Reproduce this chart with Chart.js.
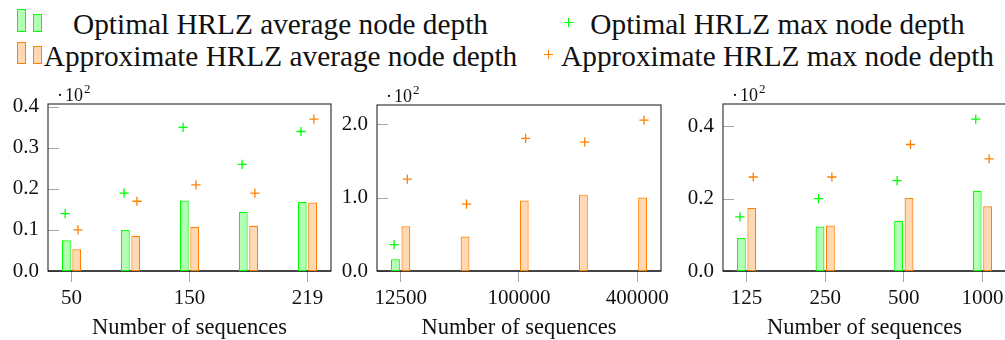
<!DOCTYPE html>
<html>
<head>
<meta charset="utf-8">
<script src="https://cdn.jsdelivr.net/npm/chart.js@4"></script>
<style>
  html, body { margin: 0; padding: 0; background: #fff; }
  body { width: 1005px; height: 340px; position: relative; overflow: hidden;
         font-family: "Liberation Serif", serif; color: #111; }
  canvas { position: absolute; top: 0; }
  .lt { position: absolute; font-size: 29.3px; line-height: 32px; white-space: nowrap;
        transform: translateX(-50%); }
  .sw { position: absolute; box-sizing: border-box; border: 1.2px solid; }
  .cross { position: absolute; width: 9px; height: 9px; }
</style>
</head>
<body>
<div id="legend"></div>
<canvas id="panelA" width="340" height="340" style="left:0px"></canvas>
<canvas id="panelB" width="340" height="340" style="left:330px"></canvas>
<canvas id="panelC" width="340" height="340" style="left:676px"></canvas>
<script>
// ---- data (values in nodes, axis shows them ·10^2) ----
// panel A: 50 .. 219 sequences
const labelsA = ['50', '', '150', '', '219'];
const optAvgA = [7.5, 10, 17.2, 14.4, 16.8];
const apxAvgA = [5.3, 8.6, 10.8, 11, 16.7];
const optMaxA = [14, 19, 35, 26, 34];
const apxMaxA = [10, 17, 21, 19, 37];

// panel B: 12500 .. 400000 sequences (optimal only for the first one)
const labelsB = ['12500', '', '100000', '', '400000'];
const optAvgB = [16, null, null, null, null];
const apxAvgB = [61, 47, 96, 104, 100];
const optMaxB = [36, null, null, null, null];
const apxMaxB = [125, 91, 180.5, 175.5, 205.5];

// panel C: 125 .. 1000 sequences
const labelsC = ['125', '250', '500', '1000'];
const optAvgC = [9.1, 12.3, 13.8, 22.1];
const apxAvgC = [17.4, 12.6, 20.2, 17.9];
const optMaxC = [15, 20, 25, 42];
const apxMaxC = [26, 26, 35, 31];

const legendNames = [
  'Optimal HRLZ average node depth',
  'Optimal HRLZ max node depth',
  'Approximate HRLZ average node depth',
  'Approximate HRLZ max node depth'
];

const GREEN = 'rgb(0,255,0)';
const GREEN_FILL = 'rgb(179,255,179)';
const ORANGE = 'rgb(255,128,0)';
const ORANGE_FILL = 'rgb(255,217,179)';
const FONT = '"Liberation Serif", serif';

// ---- legend (html) ----
function buildLegend() {
  const box = document.getElementById('legend');
  const rows = [
    { y: 0, stroke: GREEN, fill: GREEN_FILL, avg: legendNames[0], max: legendNames[1], crossX: 564 },
    { y: 32.4, stroke: ORANGE, fill: ORANGE_FILL, avg: legendNames[2], max: legendNames[3], crossX: 544 }
  ];
  rows.forEach(r => {
    box.insertAdjacentHTML('beforeend',
      `<div class="sw" style="left:17px;top:${9.3 + r.y}px;width:8.5px;height:22.4px;border-color:${r.stroke};background:${r.fill}"></div>` +
      `<div class="sw" style="left:33px;top:${14 + r.y}px;width:8.5px;height:17.7px;border-color:${r.stroke};background:${r.fill}"></div>` +
      `<div class="lt" style="left:280.5px;top:${8 + r.y}px">${r.avg}</div>` +
      `<div class="cross" style="left:${r.crossX}px;top:${18 + r.y}px;background:` +
        `linear-gradient(${r.stroke},${r.stroke}) center/100% 1.3px no-repeat,` +
        `linear-gradient(${r.stroke},${r.stroke}) center/1.3px 100% no-repeat"></div>` +
      `<div class="lt" style="left:777.5px;top:${8 + r.y}px">${r.max}</div>`);
  });
}

// frame, inner y ticks and the ·10^2 factor
const framePlugin = {
  id: 'frame',
  beforeDatasetsDraw(chart) {
    const { ctx, chartArea: a, scales: { y } } = chart;
    ctx.save();
    ctx.strokeStyle = '#a8a8a8';
    ctx.lineWidth = 1;
    y.ticks.forEach(t => {
      const py = Math.round(y.getPixelForValue(t.value)) + 0.5;
      ctx.beginPath();
      ctx.moveTo(a.left, py);
      ctx.lineTo(a.left + 11, py);
      ctx.stroke();
    });
    ctx.strokeStyle = '#3a3a3a';
    ctx.lineWidth = 1.2;
    ctx.strokeRect(a.left, a.top, a.right - a.left, a.bottom - a.top);
    ctx.strokeStyle = '#000';
    ctx.beginPath();
    ctx.moveTo(a.left, a.bottom);
    ctx.lineTo(a.right, a.bottom);
    ctx.stroke();
    ctx.restore();
  },
  afterDraw(chart) {
    const { ctx, chartArea: a } = chart;
    ctx.save();
    ctx.fillStyle = '#111';
    ctx.textBaseline = 'alphabetic';
    ctx.font = '18px ' + FONT;
    ctx.fillText('·', a.left + 9, a.top - 3.5);
    ctx.fillText('10', a.left + 17, a.top - 3.5);
    ctx.font = '13px ' + FONT;
    ctx.fillText('2', a.left + 36, a.top - 11);
    ctx.restore();
  }
};

function makePanel(id, labels, optAvg, apxAvg, optMax, apxMax, cfg) {
  const n = labels.length;
  const pad = 0.1 * (n - 1);
  const yMax = 1.1 * Math.max(...optMax.concat(apxMax).filter(v => v != null));
  const pts = (arr, shift) => arr.map((v, i) => ({ x: i + shift, y: v }));

  const barCommon = {
    type: 'bar',
    borderWidth: 1.2,
    borderSkipped: false,
    categoryPercentage: cfg.catPct,
    barPercentage: 0.85
  };
  const markCommon = {
    type: 'scatter',
    pointStyle: 'cross',
    pointRadius: 4.6,
    borderWidth: 1.3
  };

  return new Chart(document.getElementById(id), {
    type: 'bar',
    data: {
      datasets: [
        { ...barCommon, label: legendNames[0], data: pts(optAvg, 0),
          backgroundColor: GREEN_FILL, borderColor: GREEN },
        { ...barCommon, label: legendNames[2], data: pts(apxAvg, 0),
          backgroundColor: ORANGE_FILL, borderColor: ORANGE },
        { ...markCommon, label: legendNames[1], data: pts(optMax, -cfg.markShift),
          borderColor: GREEN, backgroundColor: GREEN },
        { ...markCommon, label: legendNames[3], data: pts(apxMax, cfg.markShift),
          borderColor: ORANGE, backgroundColor: ORANGE }
      ]
    },
    options: {
      responsive: false,
      animation: false,
      events: [],
      layout: { padding: { top: cfg.top, right: cfg.right, bottom: 0, left: 0 } },
      plugins: { legend: { display: false }, tooltip: { enabled: false } },
      scales: {
        x: {
          type: 'linear',
          offset: false,
          min: -pad,
          max: n - 1 + pad,
          afterBuildTicks: s => {
            s.ticks = labels.map((l, i) => (l ? { value: i } : null)).filter(Boolean);
          },
          afterFit: s => { s.height = 69; s.paddingLeft = 0; s.paddingRight = 0; },
          ticks: {
            callback: v => labels[v],
            font: { family: FONT, size: 21 },
            color: '#111',
            padding: 4,
            maxRotation: 0,
            autoSkip: false
          },
          grid: {
            offset: false,
            drawOnChartArea: false,
            drawTicks: true,
            tickLength: 11,
            color: '#a8a8a8',
            lineWidth: 1
          },
          border: { display: false },
          title: {
            display: true,
            text: 'Number of sequences',
            font: { family: FONT, size: 22.5, lineHeight: 1 },
            color: '#111',
            padding: { top: 0, bottom: 1 }
          }
        },
        y: {
          min: 0,
          max: yMax,
          afterBuildTicks: s => {
            const t = [];
            for (let v = 0; v <= yMax; v += cfg.yStep) t.push({ value: v });
            s.ticks = t;
          },
          afterFit: s => { s.width = cfg.yWidth; s.paddingTop = 0; s.paddingBottom = 0; },
          ticks: {
            callback: v => (v / 100).toFixed(1),
            font: { family: FONT, size: 21 },
            color: '#111',
            padding: 9
          },
          grid: { display: false, drawTicks: false },
          border: { display: false }
        }
      }
    },
    plugins: [framePlugin]
  });
}

buildLegend();
makePanel('panelA', labelsA, optAvgA, apxAvgA, optMaxA, apxMaxA,
  { top: 104, right: 9, yWidth: 48, yStep: 10, catPct: 0.353, markShift: 0.109 });
makePanel('panelB', labelsB, optAvgB, apxAvgB, optMaxB, apxMaxB,
  { top: 105, right: 9, yWidth: 47, yStep: 100, catPct: 0.353, markShift: 0.112 });
makePanel('panelC', labelsC, optAvgC, apxAvgC, optMaxC, apxMaxC,
  { top: 104, right: 10, yWidth: 47, yStep: 20, catPct: 0.265, markShift: 0.085 });
</script>
</body>
</html>
